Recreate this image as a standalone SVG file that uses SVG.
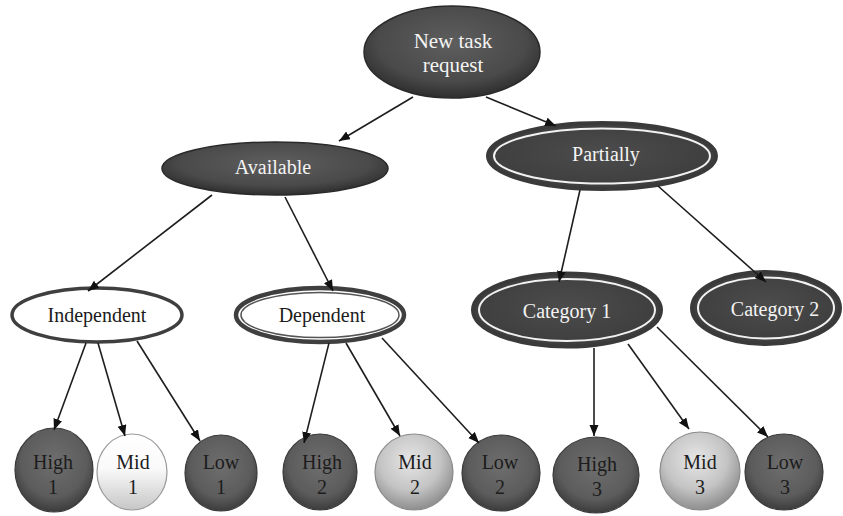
<svg xmlns="http://www.w3.org/2000/svg" width="843" height="516" viewBox="0 0 843 516">
<style>
text{font-family:"Liberation Serif","DejaVu Serif",serif;text-anchor:middle}
.lt{fill:#f4f4f4;font-size:20px}
.dt{fill:#1c1c1c;font-size:20px}
.edge{stroke:#1e1e1e;stroke-width:1.6;fill:none;marker-end:url(#ah)}
.dark{fill:url(#gDark);stroke:#2a2a2a;stroke-width:1.5}
.dbl{fill:url(#gDbl);stroke:#3a3a3a;stroke-width:4}
.dblin{fill:none;stroke:#f2f2f2;stroke-width:2}
.hi{fill:url(#gBall);stroke:#3a3a3a;stroke-width:1.2}
.mid{fill:url(#gMid);stroke:#8a8a8a;stroke-width:1.2}
.mid1{fill:url(#gMid1);stroke:#9a9a9a;stroke-width:1.2}
</style>
<defs>
<marker id="ah" markerUnits="userSpaceOnUse" markerWidth="12" markerHeight="10" refX="11" refY="4.5" orient="auto">
<path d="M0,0 L11,4.5 L0,9 z" fill="#111"/>
</marker>
<radialGradient id="gDark" cx="50%" cy="40%" r="60%">
<stop offset="0" stop-color="#5e5e5e"/>
<stop offset="0.7" stop-color="#4a4a4a"/>
<stop offset="1" stop-color="#2e2e2e"/>
</radialGradient>
<radialGradient id="gDbl" cx="50%" cy="45%" r="60%">
<stop offset="0" stop-color="#4c4c4c"/>
<stop offset="1" stop-color="#3c3c3c"/>
</radialGradient>
<radialGradient id="gBall" cx="50%" cy="40%" r="60%">
<stop offset="0" stop-color="#6e6e6e"/>
<stop offset="0.7" stop-color="#5c5c5c"/>
<stop offset="1" stop-color="#3c3c3c"/>
</radialGradient>
<radialGradient id="gMid" cx="45%" cy="35%" r="65%">
<stop offset="0" stop-color="#e6e6e6"/>
<stop offset="0.6" stop-color="#c4c4c4"/>
<stop offset="1" stop-color="#8e8e8e"/>
</radialGradient>
<linearGradient id="gMid1" x1="0" y1="0" x2="0" y2="1">
<stop offset="0" stop-color="#ffffff"/>
<stop offset="0.45" stop-color="#fafafa"/>
<stop offset="1" stop-color="#c6c6c6"/>
</linearGradient>
</defs>
<rect width="843" height="516" fill="#ffffff"/>

<g id="new-task-request">
<ellipse class="dark" cx="452" cy="52" rx="88" ry="46"/>
<text class="lt" x="453" y="48" style="font-size:21px">New task</text>
<text class="lt" x="453" y="72" style="font-size:21px">request</text>
</g>

<g id="available">
<ellipse class="dark" cx="275" cy="168.5" rx="113" ry="26.5"/>
<text class="lt" x="273" y="174">Available</text>
</g>

<g id="partially">
<ellipse class="dbl" cx="602" cy="156" rx="114" ry="33"/>
<ellipse class="dblin" cx="602" cy="156" rx="108" ry="27.5"/>
<text class="lt" x="606" y="161">Partially</text>
</g>

<g id="independent">
<ellipse cx="97" cy="315" rx="85" ry="27" fill="#ffffff" stroke="#3f3f3f" stroke-width="3.5"/>
<text class="dt" x="97" y="322">Independent</text>
</g>

<g id="dependent">
<ellipse cx="320" cy="315" rx="84" ry="27" fill="#ffffff" stroke="#3f3f3f" stroke-width="4.5"/>
<ellipse cx="320" cy="315" rx="79" ry="22.5" fill="none" stroke="#555" stroke-width="1.5"/>
<text class="dt" x="322" y="322">Dependent</text>
</g>

<g id="category-1">
<ellipse class="dbl" cx="567" cy="310" rx="94" ry="36.5"/>
<ellipse class="dblin" cx="567" cy="310" rx="88" ry="31"/>
<text class="lt" x="567" y="318">Category 1</text>
</g>

<g id="category-2">
<ellipse class="dbl" cx="766" cy="308" rx="74" ry="36"/>
<ellipse class="dblin" cx="766" cy="308" rx="68" ry="30.5"/>
<text class="lt" x="775" y="316">Category 2</text>
</g>

<g id="high-1">
<ellipse class="hi" cx="54" cy="470" rx="39" ry="42"/>
<text class="dt" x="53" y="469">High</text>
<text class="dt" x="53" y="494">1</text>
</g>
<g id="mid-1">
<ellipse class="mid1" cx="132" cy="472" rx="35" ry="38"/>
<text class="dt" x="133" y="469">Mid</text>
<text class="dt" x="133" y="494">1</text>
</g>
<g id="low-1">
<ellipse class="hi" cx="221" cy="473" rx="36" ry="38"/>
<text class="dt" x="221" y="469">Low</text>
<text class="dt" x="221" y="494">1</text>
</g>
<g id="high-2">
<ellipse class="hi" cx="320" cy="472" rx="37" ry="38"/>
<text class="dt" x="322" y="469">High</text>
<text class="dt" x="322" y="494">2</text>
</g>
<g id="mid-2">
<ellipse class="mid" cx="414" cy="472" rx="39" ry="38"/>
<text class="dt" x="415" y="469">Mid</text>
<text class="dt" x="415" y="494">2</text>
</g>
<g id="low-2">
<ellipse class="hi" cx="501" cy="473" rx="39" ry="38"/>
<text class="dt" x="500" y="469">Low</text>
<text class="dt" x="500" y="494">2</text>
</g>
<g id="high-3">
<ellipse class="hi" cx="596" cy="475" rx="43" ry="38"/>
<text class="dt" x="597" y="471">High</text>
<text class="dt" x="597" y="496">3</text>
</g>
<g id="mid-3">
<ellipse class="mid" cx="700" cy="471" rx="40" ry="39"/>
<text class="dt" x="700" y="469">Mid</text>
<text class="dt" x="700" y="494">3</text>
</g>
<g id="low-3">
<ellipse class="hi" cx="784" cy="472" rx="39" ry="38"/>
<text class="dt" x="785" y="469">Low</text>
<text class="dt" x="785" y="494">3</text>
</g>

<g id="connectors">
<line class="edge" x1="413" y1="97" x2="339" y2="141"/>
<line class="edge" x1="486" y1="97" x2="556" y2="126"/>
<line class="edge" x1="212" y1="195" x2="88" y2="291"/>
<line class="edge" x1="285" y1="197" x2="333" y2="291"/>
<line class="edge" x1="580" y1="190" x2="559" y2="282"/>
<line class="edge" x1="658" y1="186" x2="766" y2="282"/>
<line class="edge" x1="86" y1="343" x2="54" y2="430"/>
<line class="edge" x1="98" y1="343" x2="125" y2="436"/>
<line class="edge" x1="137" y1="341" x2="200" y2="441"/>
<line class="edge" x1="329" y1="343" x2="304" y2="443"/>
<line class="edge" x1="346" y1="343" x2="400" y2="436"/>
<line class="edge" x1="382" y1="338" x2="479" y2="443"/>
<line class="edge" x1="594" y1="348" x2="594" y2="436"/>
<line class="edge" x1="628" y1="344" x2="689" y2="429"/>
<line class="edge" x1="657" y1="327" x2="768" y2="437"/>
</g>
</svg>
